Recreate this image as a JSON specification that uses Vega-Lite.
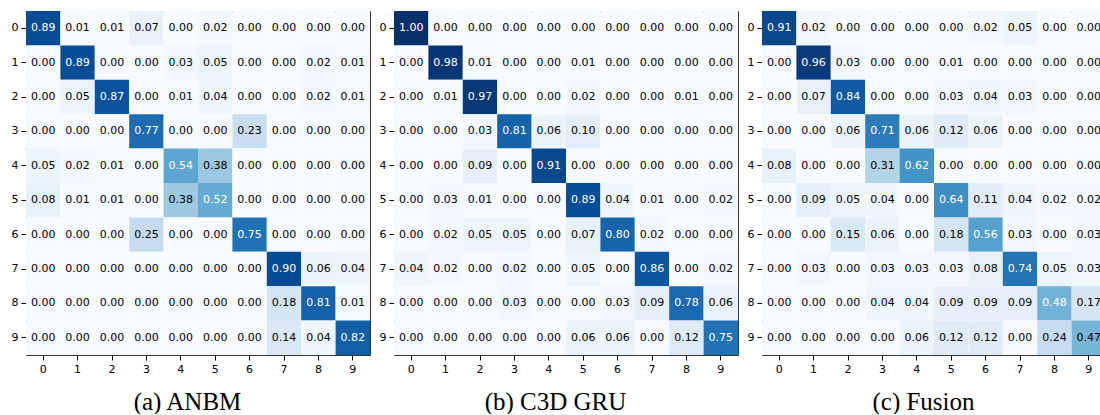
{
"$schema":"https://vega.github.io/schema/vega-lite/v6.json",
"padding":{"left":11,"top":11,"right":0,"bottom":0},
"spacing":9,
"datasets":{
"a":[
{"t":0,"p":0,"v":0.89},{"t":0,"p":1,"v":0.01},{"t":0,"p":2,"v":0.01},{"t":0,"p":3,"v":0.07},{"t":0,"p":4,"v":0.00},{"t":0,"p":5,"v":0.02},{"t":0,"p":6,"v":0.00},{"t":0,"p":7,"v":0.00},{"t":0,"p":8,"v":0.00},{"t":0,"p":9,"v":0.00},
{"t":1,"p":0,"v":0.00},{"t":1,"p":1,"v":0.89},{"t":1,"p":2,"v":0.00},{"t":1,"p":3,"v":0.00},{"t":1,"p":4,"v":0.03},{"t":1,"p":5,"v":0.05},{"t":1,"p":6,"v":0.00},{"t":1,"p":7,"v":0.00},{"t":1,"p":8,"v":0.02},{"t":1,"p":9,"v":0.01},
{"t":2,"p":0,"v":0.00},{"t":2,"p":1,"v":0.05},{"t":2,"p":2,"v":0.87},{"t":2,"p":3,"v":0.00},{"t":2,"p":4,"v":0.01},{"t":2,"p":5,"v":0.04},{"t":2,"p":6,"v":0.00},{"t":2,"p":7,"v":0.00},{"t":2,"p":8,"v":0.02},{"t":2,"p":9,"v":0.01},
{"t":3,"p":0,"v":0.00},{"t":3,"p":1,"v":0.00},{"t":3,"p":2,"v":0.00},{"t":3,"p":3,"v":0.77},{"t":3,"p":4,"v":0.00},{"t":3,"p":5,"v":0.00},{"t":3,"p":6,"v":0.23},{"t":3,"p":7,"v":0.00},{"t":3,"p":8,"v":0.00},{"t":3,"p":9,"v":0.00},
{"t":4,"p":0,"v":0.05},{"t":4,"p":1,"v":0.02},{"t":4,"p":2,"v":0.01},{"t":4,"p":3,"v":0.00},{"t":4,"p":4,"v":0.54},{"t":4,"p":5,"v":0.38},{"t":4,"p":6,"v":0.00},{"t":4,"p":7,"v":0.00},{"t":4,"p":8,"v":0.00},{"t":4,"p":9,"v":0.00},
{"t":5,"p":0,"v":0.08},{"t":5,"p":1,"v":0.01},{"t":5,"p":2,"v":0.01},{"t":5,"p":3,"v":0.00},{"t":5,"p":4,"v":0.38},{"t":5,"p":5,"v":0.52},{"t":5,"p":6,"v":0.00},{"t":5,"p":7,"v":0.00},{"t":5,"p":8,"v":0.00},{"t":5,"p":9,"v":0.00},
{"t":6,"p":0,"v":0.00},{"t":6,"p":1,"v":0.00},{"t":6,"p":2,"v":0.00},{"t":6,"p":3,"v":0.25},{"t":6,"p":4,"v":0.00},{"t":6,"p":5,"v":0.00},{"t":6,"p":6,"v":0.75},{"t":6,"p":7,"v":0.00},{"t":6,"p":8,"v":0.00},{"t":6,"p":9,"v":0.00},
{"t":7,"p":0,"v":0.00},{"t":7,"p":1,"v":0.00},{"t":7,"p":2,"v":0.00},{"t":7,"p":3,"v":0.00},{"t":7,"p":4,"v":0.00},{"t":7,"p":5,"v":0.00},{"t":7,"p":6,"v":0.00},{"t":7,"p":7,"v":0.90},{"t":7,"p":8,"v":0.06},{"t":7,"p":9,"v":0.04},
{"t":8,"p":0,"v":0.00},{"t":8,"p":1,"v":0.00},{"t":8,"p":2,"v":0.00},{"t":8,"p":3,"v":0.00},{"t":8,"p":4,"v":0.00},{"t":8,"p":5,"v":0.00},{"t":8,"p":6,"v":0.00},{"t":8,"p":7,"v":0.18},{"t":8,"p":8,"v":0.81},{"t":8,"p":9,"v":0.01},
{"t":9,"p":0,"v":0.00},{"t":9,"p":1,"v":0.00},{"t":9,"p":2,"v":0.00},{"t":9,"p":3,"v":0.00},{"t":9,"p":4,"v":0.00},{"t":9,"p":5,"v":0.00},{"t":9,"p":6,"v":0.00},{"t":9,"p":7,"v":0.14},{"t":9,"p":8,"v":0.04},{"t":9,"p":9,"v":0.82}
],
"b":[
{"t":0,"p":0,"v":1.00},{"t":0,"p":1,"v":0.00},{"t":0,"p":2,"v":0.00},{"t":0,"p":3,"v":0.00},{"t":0,"p":4,"v":0.00},{"t":0,"p":5,"v":0.00},{"t":0,"p":6,"v":0.00},{"t":0,"p":7,"v":0.00},{"t":0,"p":8,"v":0.00},{"t":0,"p":9,"v":0.00},
{"t":1,"p":0,"v":0.00},{"t":1,"p":1,"v":0.98},{"t":1,"p":2,"v":0.01},{"t":1,"p":3,"v":0.00},{"t":1,"p":4,"v":0.00},{"t":1,"p":5,"v":0.01},{"t":1,"p":6,"v":0.00},{"t":1,"p":7,"v":0.00},{"t":1,"p":8,"v":0.00},{"t":1,"p":9,"v":0.00},
{"t":2,"p":0,"v":0.00},{"t":2,"p":1,"v":0.01},{"t":2,"p":2,"v":0.97},{"t":2,"p":3,"v":0.00},{"t":2,"p":4,"v":0.00},{"t":2,"p":5,"v":0.02},{"t":2,"p":6,"v":0.00},{"t":2,"p":7,"v":0.00},{"t":2,"p":8,"v":0.01},{"t":2,"p":9,"v":0.00},
{"t":3,"p":0,"v":0.00},{"t":3,"p":1,"v":0.00},{"t":3,"p":2,"v":0.03},{"t":3,"p":3,"v":0.81},{"t":3,"p":4,"v":0.06},{"t":3,"p":5,"v":0.10},{"t":3,"p":6,"v":0.00},{"t":3,"p":7,"v":0.00},{"t":3,"p":8,"v":0.00},{"t":3,"p":9,"v":0.00},
{"t":4,"p":0,"v":0.00},{"t":4,"p":1,"v":0.00},{"t":4,"p":2,"v":0.09},{"t":4,"p":3,"v":0.00},{"t":4,"p":4,"v":0.91},{"t":4,"p":5,"v":0.00},{"t":4,"p":6,"v":0.00},{"t":4,"p":7,"v":0.00},{"t":4,"p":8,"v":0.00},{"t":4,"p":9,"v":0.00},
{"t":5,"p":0,"v":0.00},{"t":5,"p":1,"v":0.03},{"t":5,"p":2,"v":0.01},{"t":5,"p":3,"v":0.00},{"t":5,"p":4,"v":0.00},{"t":5,"p":5,"v":0.89},{"t":5,"p":6,"v":0.04},{"t":5,"p":7,"v":0.01},{"t":5,"p":8,"v":0.00},{"t":5,"p":9,"v":0.02},
{"t":6,"p":0,"v":0.00},{"t":6,"p":1,"v":0.02},{"t":6,"p":2,"v":0.05},{"t":6,"p":3,"v":0.05},{"t":6,"p":4,"v":0.00},{"t":6,"p":5,"v":0.07},{"t":6,"p":6,"v":0.80},{"t":6,"p":7,"v":0.02},{"t":6,"p":8,"v":0.00},{"t":6,"p":9,"v":0.00},
{"t":7,"p":0,"v":0.04},{"t":7,"p":1,"v":0.02},{"t":7,"p":2,"v":0.00},{"t":7,"p":3,"v":0.02},{"t":7,"p":4,"v":0.00},{"t":7,"p":5,"v":0.05},{"t":7,"p":6,"v":0.00},{"t":7,"p":7,"v":0.86},{"t":7,"p":8,"v":0.00},{"t":7,"p":9,"v":0.02},
{"t":8,"p":0,"v":0.00},{"t":8,"p":1,"v":0.00},{"t":8,"p":2,"v":0.00},{"t":8,"p":3,"v":0.03},{"t":8,"p":4,"v":0.00},{"t":8,"p":5,"v":0.00},{"t":8,"p":6,"v":0.03},{"t":8,"p":7,"v":0.09},{"t":8,"p":8,"v":0.78},{"t":8,"p":9,"v":0.06},
{"t":9,"p":0,"v":0.00},{"t":9,"p":1,"v":0.00},{"t":9,"p":2,"v":0.00},{"t":9,"p":3,"v":0.00},{"t":9,"p":4,"v":0.00},{"t":9,"p":5,"v":0.06},{"t":9,"p":6,"v":0.06},{"t":9,"p":7,"v":0.00},{"t":9,"p":8,"v":0.12},{"t":9,"p":9,"v":0.75}
],
"c":[
{"t":0,"p":0,"v":0.91},{"t":0,"p":1,"v":0.02},{"t":0,"p":2,"v":0.00},{"t":0,"p":3,"v":0.00},{"t":0,"p":4,"v":0.00},{"t":0,"p":5,"v":0.00},{"t":0,"p":6,"v":0.02},{"t":0,"p":7,"v":0.05},{"t":0,"p":8,"v":0.00},{"t":0,"p":9,"v":0.00},
{"t":1,"p":0,"v":0.00},{"t":1,"p":1,"v":0.96},{"t":1,"p":2,"v":0.03},{"t":1,"p":3,"v":0.00},{"t":1,"p":4,"v":0.00},{"t":1,"p":5,"v":0.01},{"t":1,"p":6,"v":0.00},{"t":1,"p":7,"v":0.00},{"t":1,"p":8,"v":0.00},{"t":1,"p":9,"v":0.00},
{"t":2,"p":0,"v":0.00},{"t":2,"p":1,"v":0.07},{"t":2,"p":2,"v":0.84},{"t":2,"p":3,"v":0.00},{"t":2,"p":4,"v":0.00},{"t":2,"p":5,"v":0.03},{"t":2,"p":6,"v":0.04},{"t":2,"p":7,"v":0.03},{"t":2,"p":8,"v":0.00},{"t":2,"p":9,"v":0.00},
{"t":3,"p":0,"v":0.00},{"t":3,"p":1,"v":0.00},{"t":3,"p":2,"v":0.06},{"t":3,"p":3,"v":0.71},{"t":3,"p":4,"v":0.06},{"t":3,"p":5,"v":0.12},{"t":3,"p":6,"v":0.06},{"t":3,"p":7,"v":0.00},{"t":3,"p":8,"v":0.00},{"t":3,"p":9,"v":0.00},
{"t":4,"p":0,"v":0.08},{"t":4,"p":1,"v":0.00},{"t":4,"p":2,"v":0.00},{"t":4,"p":3,"v":0.31},{"t":4,"p":4,"v":0.62},{"t":4,"p":5,"v":0.00},{"t":4,"p":6,"v":0.00},{"t":4,"p":7,"v":0.00},{"t":4,"p":8,"v":0.00},{"t":4,"p":9,"v":0.00},
{"t":5,"p":0,"v":0.00},{"t":5,"p":1,"v":0.09},{"t":5,"p":2,"v":0.05},{"t":5,"p":3,"v":0.04},{"t":5,"p":4,"v":0.00},{"t":5,"p":5,"v":0.64},{"t":5,"p":6,"v":0.11},{"t":5,"p":7,"v":0.04},{"t":5,"p":8,"v":0.02},{"t":5,"p":9,"v":0.02},
{"t":6,"p":0,"v":0.00},{"t":6,"p":1,"v":0.00},{"t":6,"p":2,"v":0.15},{"t":6,"p":3,"v":0.06},{"t":6,"p":4,"v":0.00},{"t":6,"p":5,"v":0.18},{"t":6,"p":6,"v":0.56},{"t":6,"p":7,"v":0.03},{"t":6,"p":8,"v":0.00},{"t":6,"p":9,"v":0.03},
{"t":7,"p":0,"v":0.00},{"t":7,"p":1,"v":0.03},{"t":7,"p":2,"v":0.00},{"t":7,"p":3,"v":0.03},{"t":7,"p":4,"v":0.03},{"t":7,"p":5,"v":0.03},{"t":7,"p":6,"v":0.08},{"t":7,"p":7,"v":0.74},{"t":7,"p":8,"v":0.05},{"t":7,"p":9,"v":0.03},
{"t":8,"p":0,"v":0.00},{"t":8,"p":1,"v":0.00},{"t":8,"p":2,"v":0.00},{"t":8,"p":3,"v":0.04},{"t":8,"p":4,"v":0.04},{"t":8,"p":5,"v":0.09},{"t":8,"p":6,"v":0.09},{"t":8,"p":7,"v":0.09},{"t":8,"p":8,"v":0.48},{"t":8,"p":9,"v":0.17},
{"t":9,"p":0,"v":0.00},{"t":9,"p":1,"v":0.00},{"t":9,"p":2,"v":0.00},{"t":9,"p":3,"v":0.00},{"t":9,"p":4,"v":0.06},{"t":9,"p":5,"v":0.12},{"t":9,"p":6,"v":0.12},{"t":9,"p":7,"v":0.00},{"t":9,"p":8,"v":0.24},{"t":9,"p":9,"v":0.47}
]
},
"hconcat":[
{
"width":344,"height":344,
"data":{"name":"a"},
"encoding":{
"x":{"field":"p","type":"ordinal","scale":{"paddingInner":0,"paddingOuter":0},"axis":{"title":"(a) ANBM","titleX":161,"titleY":54}},
"y":{"field":"t","type":"ordinal","scale":{"paddingInner":0,"paddingOuter":0},"axis":{"title":null}}
},
"resolve":{"axis":{"x":"independent","y":"independent"}},
"layer":[
{"mark":{"type":"rect"},"encoding":{"color":{"field":"v","type":"quantitative","legend":null,"scale":{"domain":[0,0.1125,0.225,0.3375,0.45,0.5625,0.675,0.7875,0.9],"range":["#f7fbff","#deebf7","#c6dbef","#9ecae1","#6baed6","#4292c6","#2171b5","#08519c","#08306b"],"interpolate":"rgb"}}}},
{"mark":{"type":"text","font":"DejaVu Sans","fontSize":11},"encoding":{
"x":{"field":"p","type":"ordinal","axis":{"orient":"top","labels":false,"ticks":false,"title":null}},
"y":{"field":"t","type":"ordinal","axis":{"orient":"right","labels":false,"ticks":false,"title":null}},
"text":{"field":"v","type":"quantitative","format":".2f"},"color":{"condition":{"test":"datum.v > 0.45","value":"#ffffff"},"value":"#000000"}}}
]
},
{
"width":344,"height":344,
"data":{"name":"b"},
"encoding":{
"x":{"field":"p","type":"ordinal","scale":{"paddingInner":0,"paddingOuter":0},"axis":{"title":"(b) C3D GRU","titleX":161,"titleY":54}},
"y":{"field":"t","type":"ordinal","scale":{"paddingInner":0,"paddingOuter":0},"axis":{"title":null}}
},
"resolve":{"axis":{"x":"independent","y":"independent"}},
"layer":[
{"mark":{"type":"rect"},"encoding":{"color":{"field":"v","type":"quantitative","legend":null,"scale":{"domain":[0,0.125,0.25,0.375,0.5,0.625,0.75,0.875,1.0],"range":["#f7fbff","#deebf7","#c6dbef","#9ecae1","#6baed6","#4292c6","#2171b5","#08519c","#08306b"],"interpolate":"rgb"}}}},
{"mark":{"type":"text","font":"DejaVu Sans","fontSize":11},"encoding":{
"x":{"field":"p","type":"ordinal","axis":{"orient":"top","labels":false,"ticks":false,"title":null}},
"y":{"field":"t","type":"ordinal","axis":{"orient":"right","labels":false,"ticks":false,"title":null}},
"text":{"field":"v","type":"quantitative","format":".2f"},"color":{"condition":{"test":"datum.v > 0.5","value":"#ffffff"},"value":"#000000"}}}
]
},
{
"width":344,"height":344,
"data":{"name":"c"},
"encoding":{
"x":{"field":"p","type":"ordinal","scale":{"paddingInner":0,"paddingOuter":0},"axis":{"title":"(c) Fusion","titleX":161,"titleY":54}},
"y":{"field":"t","type":"ordinal","scale":{"paddingInner":0,"paddingOuter":0},"axis":{"title":null}}
},
"resolve":{"axis":{"x":"independent","y":"independent"}},
"layer":[
{"mark":{"type":"rect"},"encoding":{"color":{"field":"v","type":"quantitative","legend":null,"scale":{"domain":[0,0.12,0.24,0.36,0.48,0.6,0.72,0.84,0.96],"range":["#f7fbff","#deebf7","#c6dbef","#9ecae1","#6baed6","#4292c6","#2171b5","#08519c","#08306b"],"interpolate":"rgb"}}}},
{"mark":{"type":"text","font":"DejaVu Sans","fontSize":11},"encoding":{
"x":{"field":"p","type":"ordinal","axis":{"orient":"top","labels":false,"ticks":false,"title":null}},
"y":{"field":"t","type":"ordinal","axis":{"orient":"right","labels":false,"ticks":false,"title":null}},
"text":{"field":"v","type":"quantitative","format":".2f"},"color":{"condition":{"test":"datum.v > 0.475","value":"#ffffff"},"value":"#000000"}}}
]
}
],
"config":{
"view":{"stroke":null},
"axis":{"labelFont":"DejaVu Sans","labelFontSize":11,"labelColor":"#000000","tickColor":"#000000","tickSize":5,"tickWidth":1,"labelPadding":3,"domain":true,"domainColor":"#333333","domainWidth":1,"zindex":1,"grid":false,"labelAngle":0,"titleFont":"Liberation Serif","titleFontSize":25,"titleFontWeight":"normal","titleColor":"#000000","titleBaseline":"alphabetic","titleAlign":"center","titlePadding":0}
}
}
